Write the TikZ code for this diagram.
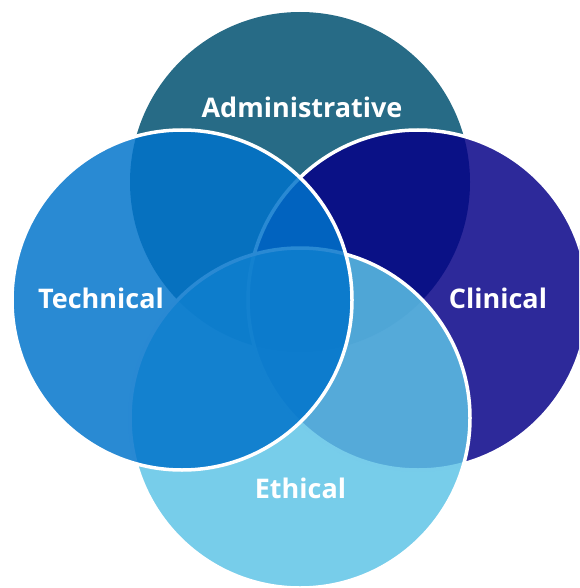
\documentclass[tikz,border=0pt]{standalone}
\usepackage{fontspec}
\setmainfont{Open Sans}
\definecolor{admincol}{RGB}{39,107,134}
\definecolor{cliniccol}{RGB}{5,0,135}
\definecolor{ethiccol}{RGB}{93,195,230}
\definecolor{techcol}{RGB}{0,115,203}
\tikzset{
  petal/.style={fill opacity=0.84, draw=white, draw opacity=1, line width=3.5pt},
  lbl/.style={text=white, font=\fontsize{27}{32}\selectfont\bfseries, inner sep=0pt, anchor=base}
}
\begin{document}
\begin{tikzpicture}[x=1pt,y=-1pt]
\useasboundingbox (0,0) rectangle (579,588);
\clip (0,0) rectangle (579,588);
\fill[admincol] (300,182) circle (170);
\coordinate (cA) at (300,182);
\coordinate (cC) at (418,300);
\coordinate (cE) at (300,418);
\coordinate (cT) at (182,300);
\path[petal, fill=cliniccol] (cC) circle (170);
\path[petal, fill=ethiccol] (cE) circle (170);
\path[petal, fill=techcol] (cT) circle (170);
\node[lbl] (la) at (302,118) {Administrative};
\node[lbl] (lc) at (498,308) {Clinical};
\node[lbl] (le) at (300.5,498) {Ethical};
\node[lbl] (lt) at (101,308) {Technical};
\end{tikzpicture}
\end{document}
